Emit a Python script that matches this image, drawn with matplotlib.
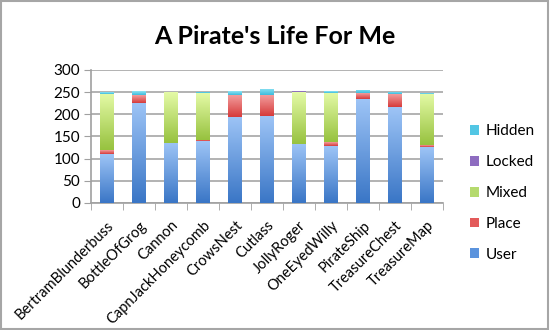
import matplotlib
matplotlib.use("Agg")
import matplotlib.pyplot as plt
import numpy as np
from matplotlib.patches import Patch, Rectangle
from matplotlib.colors import LinearSegmentedColormap

plt.rcParams['font.family'] = ['Lato', 'DejaVu Sans']

categories = ["BertramBlunderbuss", "BottleOfGrog", "Cannon", "CapnJackHoneycomb",
              "CrowsNest", "Cutlass", "JollyRoger", "OneEyedWilly", "PirateShip",
              "TreasureChest", "TreasureMap"]
user = [110, 226, 136, 139, 195, 196, 134, 128, 234, 216, 126]
place = [9, 18, 0, 4, 49, 47, 0, 9, 13, 29, 4]
mixed = [127, 0, 114, 105, 0, 0, 116, 111, 0, 0, 116]
locked = [0, 0, 1, 0, 0, 0, 2, 0, 0, 0, 0]
hidden = [4, 8, 0, 3, 9, 14, 0, 4, 8, 6, 2]
yticks = [0, 50, 100, 150, 200, 250, 300]

series = [
    ("User", user, "#3A76C6", "#9DC4F6", "#5B93DD"),
    ("Place", place, "#D63B3B", "#F29C9C", "#E35A5A"),
    ("Mixed", mixed, "#97C23F", "#E4FAA6", "#B5DA6E"),
    ("Locked", locked, "#7557A6", "#A78BD0", "#8E6CC0"),
    ("Hidden", hidden, "#3DBCDD", "#8FE3F3", "#52C6E4"),
]

fig = plt.figure(figsize=(5.5, 3.3), dpi=100)
ax = fig.add_axes([0.1655, 0.385, 0.640, 0.403])

x = np.arange(len(categories))
bottom = np.zeros(len(categories))
grad = np.linspace(0, 1, 64).reshape(-1, 1)
for name, vals, dark, light, mid in series:
    vals = np.array(vals, dtype=float)
    bars = ax.bar(x, vals, 0.42, bottom=bottom, color="none", edgecolor="none", zorder=3)
    cmap = LinearSegmentedColormap.from_list(name, [dark, light])
    for p in bars.patches:
        if p.get_height() <= 0:
            continue
        x0, y0 = p.get_x(), p.get_y()
        w, h = p.get_width(), p.get_height()
        im = ax.imshow(grad, cmap=cmap, aspect="auto", origin="lower",
                       extent=[x0, x0 + w, y0, y0 + h], zorder=3, interpolation="bilinear")
        im.set_clip_path(p)
    bottom += vals

ax.set_xlim(-0.5, len(categories) - 0.5)
ax.set_ylim(0, 300)
ax.set_yticks(yticks)
ax.tick_params(axis="y", labelsize=11, length=5, color="#A0A0A0", pad=3)
ax.yaxis.grid(True, color="#A6A6A6", linewidth=1.2, zorder=0)
ax.set_axisbelow(True)

ax.set_xticks(x)
ax.set_xticklabels(categories, rotation=45, ha="right", va="top",
                   rotation_mode="anchor", fontsize=10.5)
ax.tick_params(axis="x", which="major", length=0, pad=11)
ax.set_xticks(np.arange(-0.5, len(categories), 1.0), minor=True)
ax.tick_params(axis="x", which="minor", length=5, color="#A0A0A0", direction="out")

for s in ["top", "right"]:
    ax.spines[s].set_visible(False)
for s in ["left", "bottom"]:
    ax.spines[s].set_color("#A0A0A0")
    ax.spines[s].set_linewidth(1.2)

fig.text(0.5, 0.888, "A Pirate's Life For Me", ha="center", va="center",
         fontsize=18, fontweight="bold")

handles = [Patch(facecolor=mid, edgecolor="none", label=name)
           for name, vals, dark, light, mid in series[::-1]]
leg = fig.legend(handles=handles, loc="center left", bbox_to_anchor=(0.83, 0.415),
                 frameon=False, fontsize=11, handlelength=0.6, handleheight=0.6,
                 handletextpad=0.4, labelspacing=1.1)

fig.patches.append(Rectangle((0.002, 0.004), 0.994, 0.992, transform=fig.transFigure,
                             fill=False, edgecolor="#A6A6A6", linewidth=1.5))

fig.savefig("out.png", dpi=100)
